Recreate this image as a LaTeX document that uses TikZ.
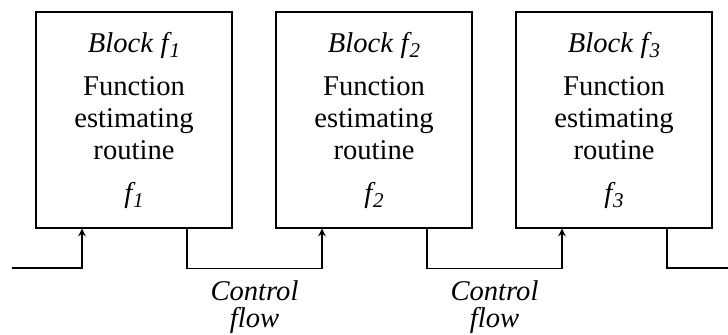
\documentclass[tikz,border=0pt]{standalone}
\usepackage{fontspec}
\setmainfont{Liberation Serif}
\usepackage{tikz}
\usetikzlibrary{arrows, positioning, calc}
\tikzstyle{arrow} = [line width=0.7pt,->,>=stealth]
\tikzstyle{wire} = [line width=0.7pt]
\tikzstyle{block} = [rectangle, draw, line width=0.7pt, minimum width=98pt, minimum height=108pt, inner sep=0pt]
\tikzset{every node/.style={align=center, font=\fontsize{14.3}{16}\selectfont}}
\newcommand{\fsub}[1]{\textit{f\kern0.5pt\raisebox{-0.45ex}{\fontsize{10.5}{11}\selectfont #1}}}

\begin{document}
\begin{tikzpicture}[node distance=120pt]
    \useasboundingbox (0,0) rectangle (364pt,-167.5pt);
    \node (blk1) [block] at (67pt,-60pt) {\textit{Block} \fsub{1}\\[5.5pt]Function\\estimating\\routine\\[5.5pt]\fsub{1}};
    \node (blk2) [block, right of=blk1] {\textit{Block} \fsub{2}\\[5.5pt]Function\\estimating\\routine\\[5.5pt]\fsub{2}};
    \node (blk3) [block, right of=blk2] {\textit{Block} \fsub{3}\\[5.5pt]Function\\estimating\\routine\\[5.5pt]\fsub{3}};

    \coordinate (in) at (6pt,-134pt);
    \coordinate (out) at (364pt,-134pt);
    \coordinate (i1) at ([xshift=-26pt]blk1.south);
    \coordinate (o1) at ([xshift=26.5pt]blk1.south);
    \coordinate (i2) at ([xshift=-26pt]blk2.south);
    \coordinate (o2) at ([xshift=26.5pt]blk2.south);
    \coordinate (i3) at ([xshift=-26pt]blk3.south);
    \coordinate (o3) at ([xshift=26.5pt]blk3.south);
    \coordinate (m1) at ($(o1)!0.5!(i2)+(0,-20pt)$);
    \coordinate (m2) at ($(o2)!0.5!(i3)+(0,-20pt)$);

    \draw [arrow] (in) -| (i1);
    \draw [arrow] (o1) |- (m1) -| (i2);
    \draw [arrow] (o2) |- (m2) -| (i3);
    \draw [wire] (o3) |- (out);

    \node (cf1) [below=2.5pt of m1, font=\fontsize{14.3}{13.5}\selectfont\itshape] {Control\\flow};
    \node (cf2) [below=2.5pt of m2, font=\fontsize{14.3}{13.5}\selectfont\itshape] {Control\\flow};
\end{tikzpicture}
\end{document}
